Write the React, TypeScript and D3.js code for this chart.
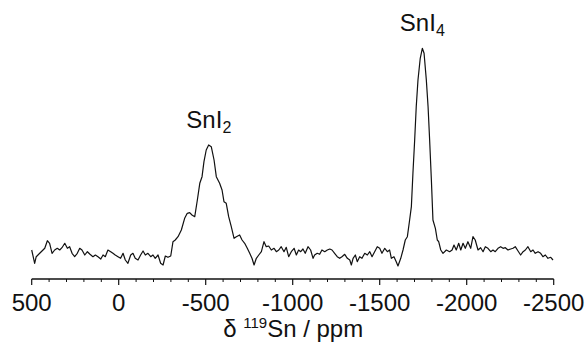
import React from "react";
import * as d3 from "d3";

// chemical shift (ppm) and intensity (arb. units)
const shiftPpm: number[] = [
  500, 483, 474, 454, 435, 425, 410, 397, 383, 368, 353, 339, 326, 310, 295, 282, 268, 253, 238, 224,
  211, 195, 180, 165, 148, 134, 119, 103, 90, 77, 62, 46, 33, 20, 4,
  -11, -25, -38, -53, -69, -82, -95, -111, -126, -140, -153, -168, -184, -197, -210, -226, -241, -255,
  -268, -283, -299, -312, -325, -341, -360, -379, -394, -408, -421, -437, -452, -466, -479, -490, -503,
  -517, -532, -548, -561, -580, -594, -605, -618, -632, -647, -663, -676, -695, -709, -724, -739, -753,
  -766, -778, -791, -805, -820, -835, -848, -862, -877, -893, -906, -920, -934, -950, -963, -977, -992,
  -1008, -1021, -1034, -1046, -1059, -1072, -1088, -1103, -1117, -1126, -1141, -1155, -1168, -1184,
  -1199, -1213, -1226, -1241, -1256, -1270, -1283, -1299, -1314, -1328, -1337, -1347, -1360, -1371,
  -1385, -1398, -1414, -1429, -1443, -1456, -1471, -1486, -1500, -1513, -1529, -1544, -1557, -1567,
  -1582, -1595, -1605, -1621, -1634, -1647, -1659, -1672, -1682, -1691, -1701, -1710, -1720, -1733,
  -1745, -1755, -1768, -1778, -1787, -1797, -1806, -1820, -1831, -1839, -1851, -1864, -1883, -1902,
  -1916, -1927, -1940, -1954, -1966, -1979, -1992, -2007, -2023, -2036, -2049, -2065, -2080, -2094,
  -2107, -2122, -2138, -2151, -2164, -2180, -2195, -2209, -2222, -2237, -2253, -2266, -2279, -2295,
  -2310, -2324, -2337, -2352, -2368, -2381, -2394, -2410, -2425, -2438, -2452, -2467, -2483, -2496,
];

const intensity: number[] = [
  2, -11.3, -4.7, -1.3, 2, 3.7, 11.3, 8.7, -1.3, 2, 3.7, 2, 4.3, 8.7, 3.7, 5.3, -1.3, -4.7, -1.3, 3.7,
  2, -3, 0.3, -2.3, -4.7, -3, -4.7, -7, -3, -4.7, 2, 0.3, -1.3, -3, -4.7,
  -6.3, -1.3, -8, -11.3, -3, -1.3, -6.3, -8, -3, 1, -3, -1.3, -4.7, -3, -6.3, -3, -11.3, -13,
  -4, -5.3, -4, 10.3, 12, 15.3, 22, 33.7, 38.7, 39.3, 37, 35.3, 52, 68.7, 75.3, 90.3, 102,
  107, 105.3, 92, 75.3, 68.7, 62, 50.3, 48.7, 35.3, 25.3, 13.7, 15.3, 17, 12, 8.7, 3.7, -1.3,
  -6.3, -13, -6.3, -3, 0.3, 10.3, 5.3, 6, 2, 3.7, 0.3, 2, 5.3, 0.3, 4.7, -4.7, 0.3,
  3.7, -3, 2, 0.3, 3, -1.3, 5.3, 2, -6.3, -3, -1.3, -2.3, 2, 0.3,
  2, 3, 2, -1.3, -4.7, -6.3, -4.7, -2.3, -6.3, -8, -13, -6.3, -3, -9.7,
  -4.7, -6.3, -1.3, -3, 0.3, -4.7, 0.3, 5.3, 3.7, -1.3, 3.7, 0.3, 2, -6.3,
  -4.7, -9.7, -14, -6.3, 2, 12, 15.3, 32, 45.3, 78.7, 112, 145.3, 172, 193.7,
  203.7, 198.7, 172, 145.3, 112, 72, 32, 23.7, 12, 10.3, 2, -1.3, 2, 0.3,
  2, 7, 2, 8.7, 2, 8.7, 3.7, 10.3, 3.7, 15.3, 12, 2, 4.3, 0.3,
  5.3, 3.7, 0.3, 2, 0.3, 3.7, 5.3, 3.7, 4.3, 2, 3, 3.7, 5.3, 1,
  -3, 0.3, 2, 5.3, 0.3, 2, -1.3, 0.3, -1.3, -4.7, -3, -6.3, -5.3, -8,
];

const majorTicks: number[] = [500, 0, -500, -1000, -1500, -2000, -2500];
const minorStep = 100;

const peakLabels: { ppm: number; base: string; sub: string }[] = [
  { ppm: -518, base: "SnI", sub: "2" },
  { ppm: -1745, base: "SnI", sub: "4" },
];

const FONT = "'Liberation Sans', Arial, Helvetica, sans-serif";

export default function App() {
  const width = 587;
  const height = 343;
  const x = d3.scaleLinear().domain([500, -2500]).range([31.7, 553.7]);
  const y = d3.scaleLinear().domain([-20, 210]).range([272, 42]);
  const axisY = 279;

  const pts = shiftPpm.map((p, i) => [p, intensity[i]] as [number, number]);
  const line = d3
    .line<[number, number]>()
    .x((d) => x(d[0]))
    .y((d) => y(d[1]));

  const minor = d3.range(500, -2500 - 1, -minorStep).filter((v) => !majorTicks.includes(v));

  const peakIntensity = (p: number) => {
    let best = 0;
    let bd = Infinity;
    shiftPpm.forEach((s, i) => {
      const dd = Math.abs(s - p);
      if (dd < bd) {
        bd = dd;
        best = intensity[i];
      }
    });
    return best;
  };

  return (
    <svg
      width={width}
      height={height}
      style={{ position: "fixed", left: 0, top: 0, background: "#fff" }}
      fontFamily={FONT}
    >
      <path d={line(pts) || ""} fill="none" stroke="#111" strokeWidth={1.2} strokeLinejoin="round" />

      {/* axis */}
      <line x1={x(500)} x2={x(-2500)} y1={axisY} y2={axisY} stroke="#111" strokeWidth={1.5} />
      {majorTicks.map((t) => (
        <g key={"M" + t}>
          <line x1={x(t)} x2={x(t)} y1={axisY} y2={axisY + 6} stroke="#111" strokeWidth={1.2} />
          <text x={x(t)} y={311} textAnchor="middle" fontSize={24} fill="#111">
            {t}
          </text>
        </g>
      ))}
      {minor.map((t) => (
        <line key={"m" + t} x1={x(t)} x2={x(t)} y1={axisY} y2={axisY + 3} stroke="#111" strokeWidth={1} />
      ))}

      <text x={x(-1000) + 0.5} y={337} textAnchor="middle" fontSize={24} fill="#111">
        δ <tspan fontSize={15} dy={-9}>119</tspan>
        <tspan dy={9}>Sn / ppm</tspan>
      </text>

      {peakLabels.map((pl) => (
        <text
          key={pl.sub}
          x={x(pl.ppm)}
          y={y(peakIntensity(pl.ppm)) - 17}
          textAnchor="middle"
          fontSize={24}
          fill="#111"
        >
          {pl.base}
          <tspan fontSize={16} dy={5}>
            {pl.sub}
          </tspan>
        </text>
      ))}
    </svg>
  );
}
